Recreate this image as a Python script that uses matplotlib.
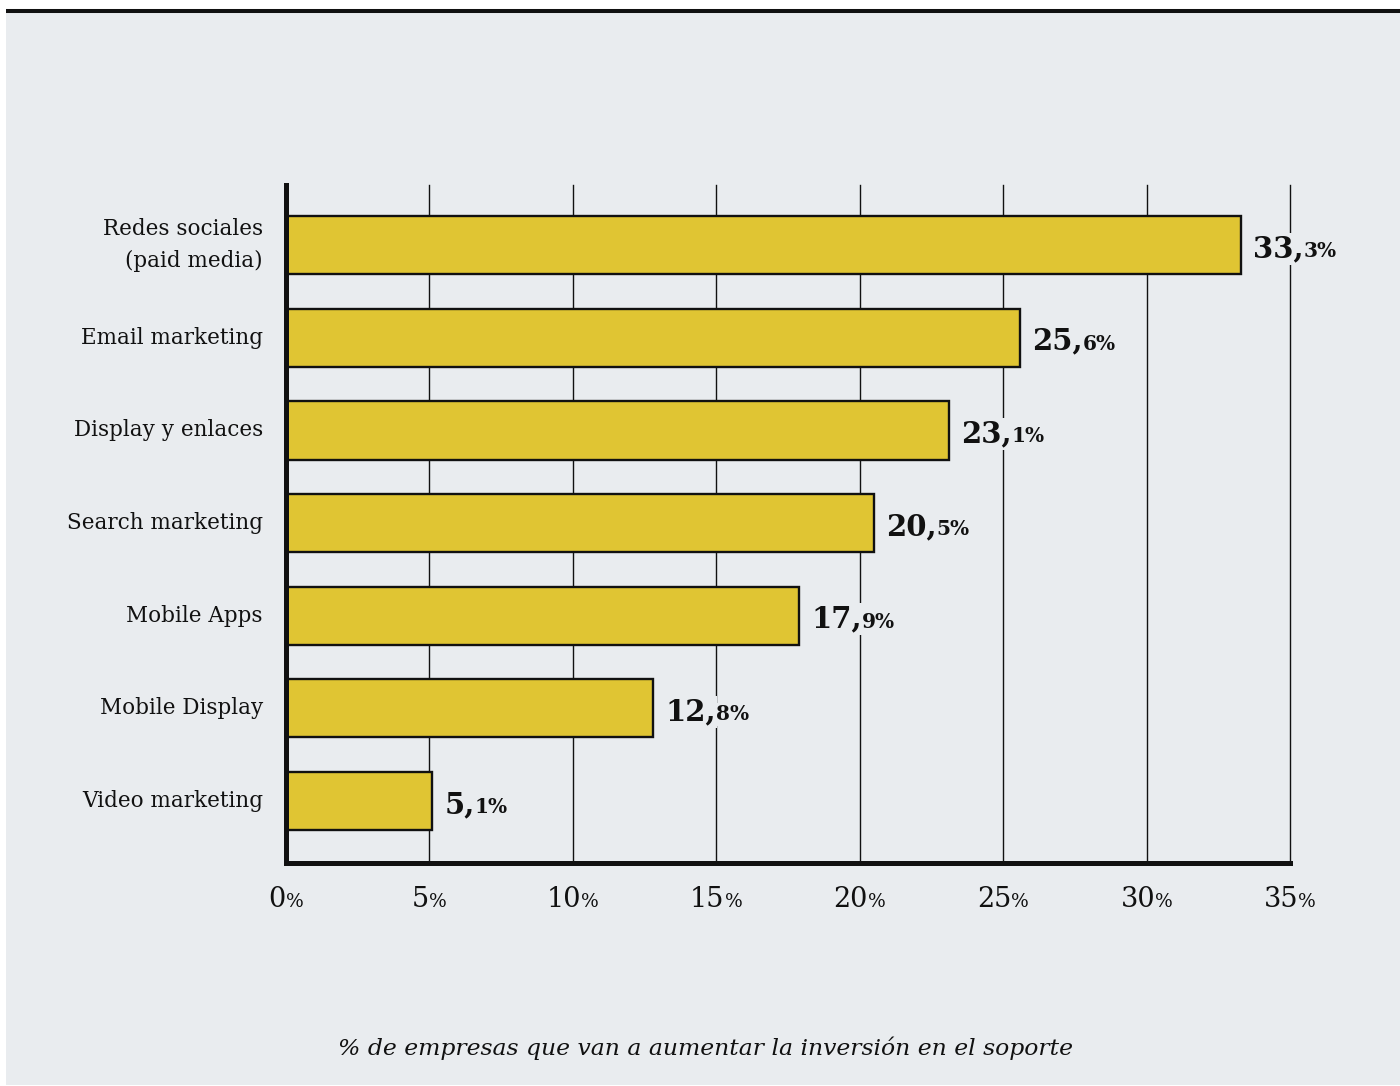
import matplotlib
matplotlib.use("Agg")
import matplotlib.pyplot as plt
from matplotlib.patches import Rectangle
from matplotlib.lines import Line2D
from matplotlib.transforms import offset_copy

# data
categories = ["Redes sociales\n(paid media)", "Email marketing", "Display y enlaces",
              "Search marketing", "Mobile Apps", "Mobile Display", "Video marketing"]
values = [33.3, 25.6, 23.1, 20.5, 17.9, 12.8, 5.1]
xticks = [0, 5, 10, 15, 20, 25, 30, 35]
footer = "% de empresas que van a aumentar la inversión en el soporte"

W, H = 1400, 1086
bg = "#e9ecef"
bar_color = "#e0c533"
ink = "#111111"
serif = "DejaVu Serif"

fig = plt.figure(figsize=(W / 100, H / 100), dpi=100, facecolor="white")

# background panel and the rule on top
fig.patches.append(Rectangle((6 / W, 1 / H), 1 - 6 / W, (H - 13) / H,
                             transform=fig.transFigure, facecolor=bg,
                             edgecolor="none", zorder=-5))
fig.add_artist(Line2D([6 / W, 1], [1 - 10.5 / H] * 2, color=ink, lw=2.9,
                      solid_capstyle="butt", transform=fig.transFigure))

ax = fig.add_axes([286 / W, (H - 863) / H, (1290 - 286) / W, (863 - 185) / H])
ax.set_facecolor("none")

ypos = list(range(len(values)))
ax.barh(ypos, values, height=0.63, color=bar_color, edgecolor=ink,
        linewidth=1.7, zorder=2)

for x in xticks[1:]:
    ax.axvline(x, color=ink, lw=1.0, zorder=1, clip_on=False)

ax.set_xlim(0, 35)
ax.set_ylim(6.67, -0.65)
ax.set_xticks([])
ax.set_yticks([])
for side in ["top", "right"]:
    ax.spines[side].set_visible(False)
for side in ["left", "bottom"]:
    ax.spines[side].set_linewidth(3.6)
    ax.spines[side].set_color(ink)
    ax.spines[side].set_zorder(3)

# category labels
for i, cat in enumerate(categories):
    ax.text(0, i, cat, transform=offset_copy(ax.transData, fig, x=-23, y=0, units="dots"),
            ha="right", va="center", fontsize=15.5, family=serif, color=ink,
            linespacing=1.55)

renderer = fig.canvas.get_renderer()

# value labels: big integer part, small decimal part
box = dict(facecolor=bg, edgecolor="none", pad=1)
for i, v in enumerate(values):
    whole, dec = f"{v:.1f}".split(".")
    big = ax.text(v, i, whole + ",",
                  transform=offset_copy(ax.transData, fig, x=12, y=-12, units="dots"),
                  ha="left", va="baseline", fontsize=21, fontweight="bold",
                  family=serif, color=ink, bbox=box, zorder=4)
    w = big.get_window_extent(renderer).width
    ax.text(v, i, dec + "%",
            transform=offset_copy(ax.transData, fig, x=12 + w, y=-12, units="dots"),
            ha="left", va="baseline", fontsize=14.5, fontweight="bold",
            family=serif, color=ink, bbox=box, zorder=4)

# x tick labels with a smaller percent sign
xt = ax.get_xaxis_transform()
for t in xticks:
    num = ax.text(t, 0, str(t), transform=xt, ha="left", va="baseline",
                  fontsize=19.5, family=serif, color=ink)
    pct = ax.text(t, 0, "%", transform=xt, ha="left", va="baseline",
                  fontsize=13.5, family=serif, color=ink)
    wn = num.get_window_extent(renderer).width
    wp = pct.get_window_extent(renderer).width
    x0 = -(wn + wp) / 2
    num.set_transform(offset_copy(xt, fig, x=x0, y=-44, units="dots"))
    pct.set_transform(offset_copy(xt, fig, x=x0 + wn, y=-44, units="dots"))

fig.text(705 / W, 1 - 1048 / H, footer, ha="center", va="center",
         fontsize=16.9, style="italic", family=serif, color=ink)

fig.savefig("out.png", dpi=100, facecolor="white")
